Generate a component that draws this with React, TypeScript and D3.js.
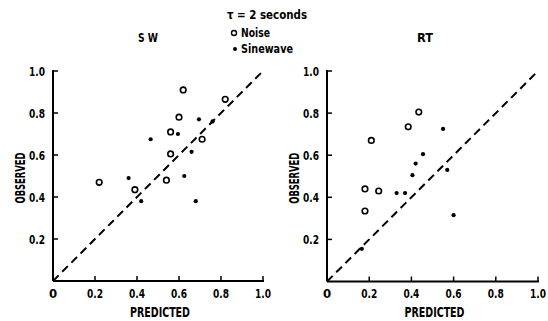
import React from "react";
import * as d3 from "d3";

const swNoiseX = [0.22, 0.39, 0.54, 0.56, 0.56, 0.6, 0.62, 0.71, 0.82];
const swNoiseY = [0.47, 0.435, 0.48, 0.71, 0.605, 0.78, 0.91, 0.675, 0.865];
const swSineX = [0.36, 0.42, 0.465, 0.595, 0.695, 0.76, 0.66, 0.625, 0.68];
const swSineY = [0.49, 0.38, 0.675, 0.70, 0.77, 0.76, 0.615, 0.50, 0.38];
const rtNoiseX = [0.18, 0.18, 0.245, 0.21, 0.385, 0.435];
const rtNoiseY = [0.335, 0.44, 0.43, 0.67, 0.735, 0.805];
const rtSineX = [0.165, 0.33, 0.37, 0.405, 0.42, 0.455, 0.55, 0.57, 0.6];
const rtSineY = [0.155, 0.42, 0.42, 0.505, 0.56, 0.605, 0.725, 0.53, 0.315];
const tickVals = [0.2, 0.4, 0.6, 0.8, 1.0];
const tickLabels = ["0.2", "0.4", "0.6", "0.8", "1.0"];

const FONT = "'DejaVu Sans Condensed', 'DejaVu Sans', sans-serif";
const TS: React.CSSProperties = { fontStretch: "condensed" };
const SQ = "spacingAndGlyphs";

type PanelProps = {
  x0: number; x1: number; y0: number; y1: number;
  title: string; titleX: number; titleW: number;
  nx: number[]; ny: number[]; sx: number[]; sy: number[];
};

function Panel({ x0, x1, y0, y1, title, titleX, titleW, nx, ny, sx, sy }: PanelProps) {
  const xs = d3.scaleLinear().domain([0, 1]).range([x0, x1]);
  const ys = d3.scaleLinear().domain([0, 1]).range([y0, y1]);
  const diag = d3.line<number>().x((d) => xs(d)).y((d) => ys(d))([0, 1]) || "";
  return (
    <g>
      <text x={titleX} y={41.5} fontFamily={FONT} style={TS} fontWeight="bold" fontSize={13} textAnchor="middle" textLength={titleW} lengthAdjust={SQ}>{title}</text>
      <line x1={xs(0)} y1={ys(0)} x2={xs(0)} y2={ys(1) - 1} stroke="#000" strokeWidth={2} />
      <line x1={xs(0)} y1={ys(0)} x2={xs(1) + 1} y2={ys(0)} stroke="#000" strokeWidth={2} />
      {tickVals.map((v, i) => (
        <g key={"t" + i}>
          <line x1={xs(0)} x2={xs(0) + 5} y1={ys(v)} y2={ys(v)} stroke="#000" strokeWidth={1.5} />
          <line x1={xs(v)} x2={xs(v)} y1={ys(0)} y2={ys(0) - 5} stroke="#000" strokeWidth={1.5} />
          <text x={xs(0) - 8} y={ys(v) + 5} fontFamily={FONT} style={TS} fontWeight="bold" fontSize={13} textAnchor="end" textLength={16} lengthAdjust={SQ}>{tickLabels[i]}</text>
          <text x={xs(v)} y={ys(0) + 16.5} fontFamily={FONT} style={TS} fontWeight="bold" fontSize={13} textAnchor="middle" textLength={16} lengthAdjust={SQ}>{tickLabels[i]}</text>
        </g>
      ))}
      <text x={xs(0)} y={ys(0) + 16.5} fontFamily={FONT} style={TS} fontWeight="bold" fontSize={13} textAnchor="middle">0</text>
      <text x={(xs(0) + xs(1)) / 2 + 2} y={ys(0) + 35.5} fontFamily={FONT} style={TS} fontWeight="bold" fontSize={14} textAnchor="middle" textLength={60} lengthAdjust={SQ}>PREDICTED</text>
      <text transform={`translate(${xs(0) - 28},${(ys(0) + ys(1)) / 2 + 2}) rotate(-90)`} fontFamily={FONT} style={TS} fontWeight="bold" fontSize={14} textAnchor="middle" textLength={51} lengthAdjust={SQ}>OBSERVED</text>
      <path d={diag} stroke="#000" strokeWidth={2} strokeDasharray="8,5" fill="none" />
      {nx.map((v, i) => (
        <circle key={"n" + i} cx={xs(v)} cy={ys(ny[i])} r={2.8} fill="#fff" stroke="#000" strokeWidth={1.6} />
      ))}
      {sx.map((v, i) => (
        <circle key={"s" + i} cx={xs(v)} cy={ys(sy[i])} r={2.1} fill="#000" />
      ))}
    </g>
  );
}

export default function App() {
  return (
    <svg width={548} height={321} style={{ position: "absolute", left: 0, top: 0, background: "#fff" }}>
      <rect x={0} y={0} width={548} height={321} fill="#fff" />
      <text x={227} y={19} fontFamily={FONT} style={TS} fontWeight="bold" fontSize={12.5} textLength={80} lengthAdjust={SQ}>τ = 2 seconds</text>
      <circle cx={234} cy={33} r={2.5} fill="#fff" stroke="#000" strokeWidth={1.4} />
      <text x={241} y={37} fontFamily={FONT} style={TS} fontWeight="bold" fontSize={12.5} textLength={29} lengthAdjust={SQ}>Noise</text>
      <circle cx={235} cy={49} r={2} fill="#000" />
      <text x={241} y={53} fontFamily={FONT} style={TS} fontWeight="bold" fontSize={12.5} textLength={52} lengthAdjust={SQ}>Sinewave</text>
      <Panel x0={53} x1={263} y0={281} y1={71} title="S W" titleX={148} titleW={20}
        nx={swNoiseX} ny={swNoiseY} sx={swSineX} sy={swSineY} />
      <Panel x0={327} x1={538} y0={281.5} y1={71} title="RT" titleX={425} titleW={16}
        nx={rtNoiseX} ny={rtNoiseY} sx={rtSineX} sy={rtSineY} />
    </svg>
  );
}
